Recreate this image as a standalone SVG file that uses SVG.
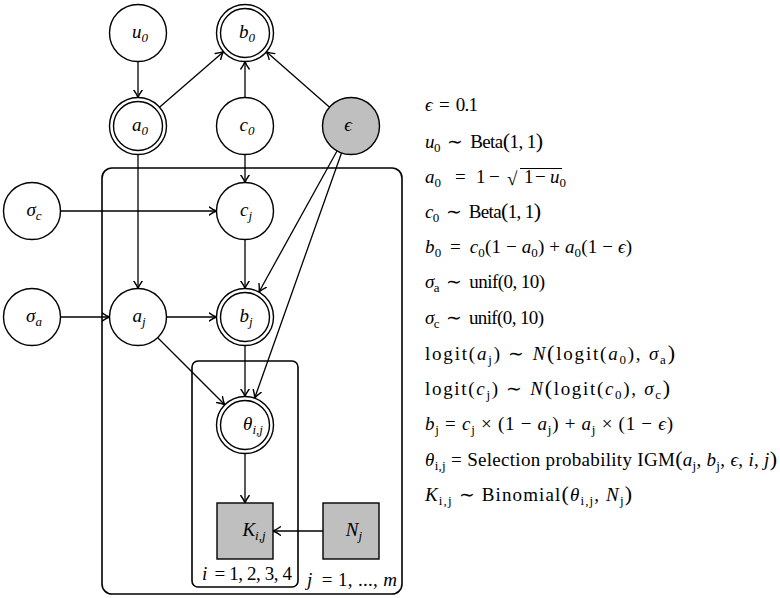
<svg xmlns="http://www.w3.org/2000/svg" width="780" height="598" viewBox="0 0 780 598">
<defs>
<marker id="arr" markerUnits="userSpaceOnUse" viewBox="-8 -5 9 10" refX="0" refY="0" markerWidth="9" markerHeight="10" orient="auto">
<path d="M-7.5,-4.2 Q-3,-1 0,0 Q-3,1 -7.5,4.2" fill="none" stroke="#000" stroke-width="1.4" stroke-linecap="round"/>
</marker>
<style>
.nd { fill: #fff; stroke: #000; stroke-width: 1.4; }
.obs { fill: #bfbfbf; stroke: #000; stroke-width: 1.4; }
.plate { fill: none; stroke: #000; stroke-width: 1.6; }
.e { fill: none; stroke: #000; stroke-width: 1.3; marker-end: url(#arr); }
text { font-family: "Liberation Serif", "Times New Roman", serif; font-size: 19px; fill: #000; }
.lb { font-style: italic; text-anchor: middle; }
.eq { font-size: 19px; }
.i { font-style: italic; }
.sb { font-size: 13px; }
.bp { font-size: 22px; }
</style>
</defs>
<rect width="780" height="598" fill="#fff"/>

<g id="plate-j"><rect class="plate" x="102" y="168" width="300" height="426" rx="10"/>
<text class="eq" x="307" y="586" textLength="90" lengthAdjust="spacing"><tspan class="i">j</tspan>&#8201; = 1, ..., <tspan class="i">m</tspan></text></g>
<g id="plate-i"><rect class="plate" x="192" y="361" width="106" height="226" rx="6"/>
<text class="eq" x="202" y="580" textLength="90" lengthAdjust="spacing"><tspan class="i">i</tspan>&#8201; = 1, 2, 3, 4</text></g>

<g id="connectors">
<path class="e" d="M138,61.5 L138,97.5"/>
<path class="e" d="M159.5,107.3 L223.5,51.7"/>
<path class="e" d="M245,97.5 L245,61.5"/>
<path class="e" d="M329.6,107.2 L266.4,51.8"/>
<path class="e" d="M245,154.5 L245,182.5"/>
<path class="e" d="M60.5,211 L216.5,211"/>
<path class="e" d="M138,154.5 L138,288.5"/>
<path class="e" d="M245,239.5 L245,288.5"/>
<path class="e" d="M337,151 L259,292"/>
<path class="e" d="M341.5,153 L254.7,398"/>
<path class="e" d="M60.5,317 L109.5,317"/>
<path class="e" d="M166.5,317 L216.5,317"/>
<path class="e" d="M158,338 L224.8,404.8"/>
<path class="e" d="M245,345.5 L245,396.5"/>
<path class="e" d="M245,453.5 L245,503"/>
<path class="e" d="M323,531 L273,531"/>
</g>

<g id="u0"><circle class="nd" cx="138" cy="33" r="28.5"/><text class="lb" x="140" y="38">u<tspan class="sb" dy="4">0</tspan></text></g>
<g id="b0"><circle class="nd" cx="245" cy="33" r="28.5"/><circle class="nd" cx="245" cy="33" r="24.5"/><text class="lb" x="247" y="38">b<tspan class="sb" dy="4">0</tspan></text></g>
<g id="a0"><circle class="nd" cx="138" cy="126" r="28.5"/><circle class="nd" cx="138" cy="126" r="24.5"/><text class="lb" x="140" y="131">a<tspan class="sb" dy="4">0</tspan></text></g>
<g id="c0"><circle class="nd" cx="245" cy="126" r="28.5"/><text class="lb" x="247" y="131">c<tspan class="sb" dy="4">0</tspan></text></g>
<g id="eps"><circle class="obs" cx="351" cy="126" r="28.5"/><text class="lb" x="348" y="131">ϵ</text></g>
<g id="sigma-c"><circle class="nd" cx="32" cy="211" r="28.5"/><text class="lb" x="34" y="216">σ<tspan class="sb" dy="4">c</tspan></text></g>
<g id="cj"><circle class="nd" cx="245" cy="211" r="28.5"/><text class="lb" x="246" y="216">c<tspan class="sb" dy="4">j</tspan></text></g>
<g id="sigma-a"><circle class="nd" cx="32" cy="317" r="28.5"/><text class="lb" x="34" y="322">σ<tspan class="sb" dy="4">a</tspan></text></g>
<g id="aj"><circle class="nd" cx="138" cy="317" r="28.5"/><text class="lb" x="139" y="322">a<tspan class="sb" dy="4">j</tspan></text></g>
<g id="bj"><circle class="nd" cx="245" cy="317" r="28.5"/><circle class="nd" cx="245" cy="317" r="24.5"/><text class="lb" x="246" y="322">b<tspan class="sb" dy="4">j</tspan></text></g>
<g id="theta"><circle class="nd" cx="245" cy="425" r="28.5"/><circle class="nd" cx="245" cy="425" r="24.5"/><text class="lb" x="253" y="430">θ<tspan class="sb" dy="4">i,j</tspan></text></g>
<g id="K"><rect class="obs" x="217" y="503" width="56" height="56"/><text class="lb" x="254" y="536">K<tspan class="sb" dy="4">i,j</tspan></text></g>
<g id="N"><rect class="obs" x="323" y="503" width="56" height="56"/><text class="lb" x="354" y="536">N<tspan class="sb" dy="4">j</tspan></text></g>

<g id="equations">
<text class="eq" x="425" y="111" textLength="53" lengthAdjust="spacing"><tspan class="i">ϵ</tspan>&#8201; = &#8201;0.1</text>
<text class="eq" x="425" y="148" textLength="118" lengthAdjust="spacing"><tspan class="i">u</tspan><tspan class="sb" dy="4">0</tspan><tspan dy="-4">&#8201; ∼ &#8201;Beta</tspan><tspan class="bp">(</tspan>1, 1<tspan class="bp">)</tspan></text>
<text class="eq" y="183"><tspan class="i" x="425">a</tspan><tspan class="sb" dy="4">0</tspan><tspan x="455" dy="-4">=</tspan><tspan x="476">1</tspan><tspan x="489">−</tspan></text>
<text class="eq" x="507" y="185" font-size="19">√</text>
<line x1="520" y1="168.5" x2="562" y2="168.5" stroke="#000" stroke-width="1"/>
<text class="eq" y="183"><tspan x="524">1</tspan><tspan x="535">−</tspan><tspan class="i" x="550">u</tspan><tspan class="sb" dy="4">0</tspan></text>
<text class="eq" x="425" y="218" textLength="116" lengthAdjust="spacing"><tspan class="i">c</tspan><tspan class="sb" dy="4">0</tspan><tspan dy="-4">&#8201; ∼ &#8201;Beta</tspan><tspan class="bp">(</tspan>1, 1<tspan class="bp">)</tspan></text>
<text class="eq" x="425" y="253" textLength="207" lengthAdjust="spacing"><tspan class="i">b</tspan><tspan class="sb" dy="4">0</tspan><tspan dy="-4">&#8201; = &#8201;</tspan><tspan class="i">c</tspan><tspan class="sb" dy="4">0</tspan><tspan dy="-4">(1 − </tspan><tspan class="i">a</tspan><tspan class="sb" dy="4">0</tspan><tspan dy="-4">) + </tspan><tspan class="i">a</tspan><tspan class="sb" dy="4">0</tspan><tspan dy="-4">(1 − </tspan><tspan class="i">ϵ</tspan>)</text>
<text class="eq" x="425" y="288" textLength="120" lengthAdjust="spacing"><tspan class="i">σ</tspan><tspan class="sb" dy="4">a</tspan><tspan dy="-4">&#8201; ∼ &#8201;unif(0, 10)</tspan></text>
<text class="eq" x="425" y="324" textLength="119" lengthAdjust="spacing"><tspan class="i">σ</tspan><tspan class="sb" dy="4">c</tspan><tspan dy="-4">&#8201; ∼ &#8201;unif(0, 10)</tspan></text>
<text class="eq" x="425" y="360" textLength="250" lengthAdjust="spacing">logit(<tspan class="i">a</tspan><tspan class="sb" dy="4">j</tspan><tspan dy="-4">) ∼ </tspan><tspan class="i">N</tspan><tspan class="bp">(</tspan>logit(<tspan class="i">a</tspan><tspan class="sb" dy="4">0</tspan><tspan dy="-4">), </tspan><tspan class="i">σ</tspan><tspan class="sb" dy="4">a</tspan><tspan class="bp" dy="-4">)</tspan></text>
<text class="eq" x="425" y="395" textLength="245" lengthAdjust="spacing">logit(<tspan class="i">c</tspan><tspan class="sb" dy="4">j</tspan><tspan dy="-4">) ∼ </tspan><tspan class="i">N</tspan><tspan class="bp">(</tspan>logit(<tspan class="i">c</tspan><tspan class="sb" dy="4">0</tspan><tspan dy="-4">), </tspan><tspan class="i">σ</tspan><tspan class="sb" dy="4">c</tspan><tspan class="bp" dy="-4">)</tspan></text>
<text class="eq" x="425" y="430" textLength="248" lengthAdjust="spacing"><tspan class="i">b</tspan><tspan class="sb" dy="4">j</tspan><tspan dy="-4"> = </tspan><tspan class="i">c</tspan><tspan class="sb" dy="4">j</tspan><tspan dy="-4"> × (1 − </tspan><tspan class="i">a</tspan><tspan class="sb" dy="4">j</tspan><tspan dy="-4">) + </tspan><tspan class="i">a</tspan><tspan class="sb" dy="4">j</tspan><tspan dy="-4"> × (1 − </tspan><tspan class="i">ϵ</tspan>)</text>
<text class="eq" x="425" y="466" textLength="352" lengthAdjust="spacing"><tspan class="i">θ</tspan><tspan class="sb" dy="4">i,j</tspan><tspan dy="-4"> = Selection probability IGM</tspan><tspan class="bp">(</tspan><tspan class="i">a</tspan><tspan class="sb" dy="4">j</tspan><tspan dy="-4">, </tspan><tspan class="i">b</tspan><tspan class="sb" dy="4">j</tspan><tspan dy="-4">, </tspan><tspan class="i">ϵ</tspan>, <tspan class="i">i</tspan>, <tspan class="i">j</tspan><tspan class="bp">)</tspan></text>
<text class="eq" x="425" y="501" textLength="207" lengthAdjust="spacing"><tspan class="i">K</tspan><tspan class="sb" dy="4">i,j</tspan><tspan dy="-4"> ∼ Binomial</tspan><tspan class="bp">(</tspan><tspan class="i">θ</tspan><tspan class="sb" dy="4">i,j</tspan><tspan dy="-4">, </tspan><tspan class="i">N</tspan><tspan class="sb" dy="4">j</tspan><tspan class="bp" dy="-4">)</tspan></text>
</g>
</svg>
